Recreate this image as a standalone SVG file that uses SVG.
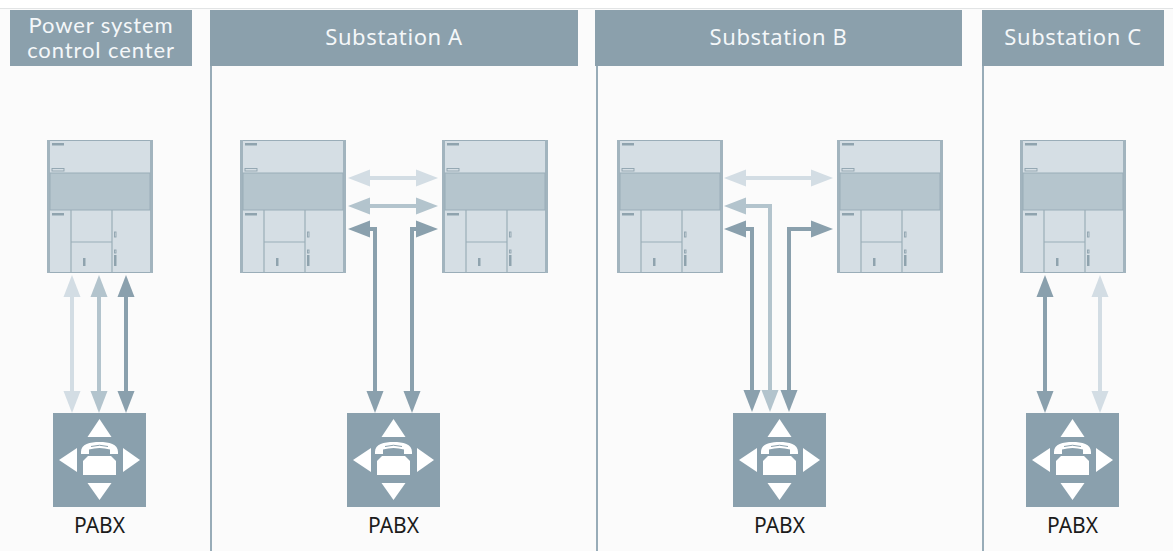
<svg xmlns="http://www.w3.org/2000/svg" xmlns:xlink="http://www.w3.org/1999/xlink" width="1173" height="551" viewBox="0 0 1173 551">
  <style>
    .hdr { fill: #8ba0ac; }
    .hdr-text { font-family: "Noto Sans", "Open Sans", sans-serif; font-size: 22px; letter-spacing: 0.6px; fill: #f4f7f9; text-anchor: middle; }
    .hdr-text.two-line { font-family: Lato, "Noto Sans", sans-serif; font-size: 22px; letter-spacing: 0.9px; }
    .label { font-family: "Noto Sans", "Open Sans", sans-serif; font-size: 21px; fill: #1c1c1c; text-anchor: middle; }
    .divider { stroke: #98acb8; stroke-width: 2; }
    .cab-body { fill: #d5dee4; stroke: #9aadb8; stroke-width: 1; }
    .cab-strip { fill: #a2b4be; }
    .cab-band { fill: #b5c5cd; stroke: #9aadb8; stroke-width: 1; }
    .cab-line { stroke: #9aadb8; stroke-width: 1.2; fill: none; }
    .cab-mark { fill: #8fa3ae; }
    .cab-mark-o { fill: none; stroke: #8fa3ae; stroke-width: 0.9; }
    .link { fill: none; stroke-width: 4; stroke-linejoin: miter; }
    .light { stroke: #d3dde4; marker-start: url(#head-light); marker-end: url(#head-light); }
    .mid { stroke: #b3c4cd; marker-start: url(#head-mid); marker-end: url(#head-mid); }
    .dark { stroke: #8aa0ad; marker-start: url(#head-dark); marker-end: url(#head-dark); }
  </style>
  <defs>
    <marker id="head-light" markerUnits="userSpaceOnUse" viewBox="0 -9 22 18" refX="0" refY="0" markerWidth="22" markerHeight="18" orient="auto-start-reverse">
      <path d="M0,-8.5 L22,0 L0,8.5 Z" fill="#d3dde4"/>
    </marker>
    <marker id="head-mid" markerUnits="userSpaceOnUse" viewBox="0 -9 22 18" refX="0" refY="0" markerWidth="22" markerHeight="18" orient="auto-start-reverse">
      <path d="M0,-8.5 L22,0 L0,8.5 Z" fill="#b3c4cd"/>
    </marker>
    <marker id="head-dark" markerUnits="userSpaceOnUse" viewBox="0 -9 22 18" refX="0" refY="0" markerWidth="22" markerHeight="18" orient="auto-start-reverse">
      <path d="M0,-8.5 L22,0 L0,8.5 Z" fill="#8aa0ad"/>
    </marker>

    <!-- control cabinet, 106 x 133 -->
    <g id="cabinet">
      <rect class="cab-body" x="0.5" y="0.5" width="105" height="132"/>
      <rect class="cab-strip" x="0" y="0" width="3" height="133"/>
      <rect class="cab-strip" x="103" y="0" width="3" height="133"/>
      <rect class="cab-band" x="3" y="33" width="100" height="37"/>
      <line class="cab-line" x1="24" y1="70" x2="24" y2="133"/>
      <line class="cab-line" x1="65" y1="70" x2="65" y2="133"/>
      <line class="cab-line" x1="24" y1="102" x2="65" y2="102"/>
      <rect class="cab-mark" x="5" y="3" width="12" height="2.5"/>
      <rect class="cab-mark-o" x="5" y="28.5" width="12" height="2.5"/>
      <rect class="cab-mark" x="5" y="73" width="12" height="2.5"/>
      <rect class="cab-mark" x="36" y="118" width="2.5" height="8"/>
      <rect class="cab-mark-o" x="67.5" y="92" width="1.5" height="5"/>
      <rect class="cab-mark-o" x="67.5" y="110" width="1.5" height="3"/>
      <rect class="cab-mark" x="67" y="115" width="2.5" height="11"/>
    </g>

    <!-- private branch exchange icon, 93 x 94 -->
    <g id="pabx-icon">
      <rect x="0" y="0" width="93" height="94" fill="#8aa0ad"/>
      <g fill="#ffffff">
        <polygon points="46.5,6 34.5,24 58.5,24"/>
        <polygon points="34.5,70 58.5,70 46.5,87"/>
        <polygon points="6,47 24,35 24,59"/>
        <polygon points="70,35 70,59 87,47"/>
        <path d="M28,39 C28,31 37,29 46.5,29 C56,29 65,31 65,39 L65,41 L57,41 L57,36.5 Q46.5,33.5 36,36.5 L36,41 L28,41 Z"/>
        <path d="M35,43 L58,43 L63,48 L63,62 L30,62 L30,48 Z"/>
      </g>
      <path d="M38,33.5 Q46.5,31 55,33.5" fill="none" stroke="#8aa0ad" stroke-width="1"/>
    </g>
  </defs>

  <!-- background -->
  <rect x="0" y="0" width="1173" height="551" fill="#ffffff"/>
  <rect x="0" y="9" width="1173" height="542" fill="#fbfbfb"/>
  <line x1="0" y1="8.5" x2="1173" y2="8.5" stroke="#e2e4e5" stroke-width="1"/>

  <!-- column headers -->
  <g id="header-control-center">
    <rect class="hdr" x="10" y="10" width="182" height="56"/>
    <text class="hdr-text two-line" x="101" y="32.5">Power system<tspan x="101" y="58">control center</tspan></text>
  </g>
  <g id="header-substation-a">
    <rect class="hdr" x="210" y="10" width="368" height="56"/>
    <text class="hdr-text" x="394" y="45">Substation A</text>
  </g>
  <g id="header-substation-b">
    <rect class="hdr" x="595" y="10" width="367" height="56"/>
    <text class="hdr-text" x="778.5" y="45">Substation B</text>
  </g>
  <g id="header-substation-c">
    <rect class="hdr" x="982" y="10" width="182" height="56"/>
    <text class="hdr-text" x="1073" y="45">Substation C</text>
  </g>

  <!-- column dividers -->
  <g id="dividers">
    <line class="divider" x1="211" y1="66" x2="211" y2="551"/>
    <line class="divider" x1="597" y1="66" x2="597" y2="551"/>
    <line class="divider" x1="983" y1="66" x2="983" y2="551"/>
  </g>

  <!-- cabinets -->
  <g id="cabinet-control-center"><use href="#cabinet" x="47" y="140"/></g>
  <g id="cabinet-a1"><use href="#cabinet" x="240" y="140"/></g>
  <g id="cabinet-a2"><use href="#cabinet" x="442" y="140"/></g>
  <g id="cabinet-b1"><use href="#cabinet" x="617" y="140"/></g>
  <g id="cabinet-b2"><use href="#cabinet" x="837" y="140"/></g>
  <g id="cabinet-c"><use href="#cabinet" x="1020" y="140"/></g>

  <!-- PABX units -->
  <g id="pabx-control-center">
    <use href="#pabx-icon" x="53" y="413"/>
    <text class="label" x="99.5" y="533">PABX</text>
  </g>
  <g id="pabx-a">
    <use href="#pabx-icon" x="347" y="413"/>
    <text class="label" x="393.5" y="533">PABX</text>
  </g>
  <g id="pabx-b">
    <use href="#pabx-icon" x="733" y="413"/>
    <text class="label" x="779.5" y="533">PABX</text>
  </g>
  <g id="pabx-c">
    <use href="#pabx-icon" x="1026" y="413"/>
    <text class="label" x="1072.5" y="533">PABX</text>
  </g>

  <!-- connections -->
  <g id="connectors">
    <!-- control center -->
    <path class="link light" d="M72,297 L72,391"/>
    <path class="link mid" d="M99,297 L99,391"/>
    <path class="link dark" d="M126,297 L126,391"/>
    <!-- substation A -->
    <path class="link light" d="M370,178 L416,178"/>
    <path class="link mid" d="M370,206 L416,206"/>
    <path class="link dark" d="M375,391 L375,229 L370,229"/>
    <path class="link dark" d="M412,391 L412,229 L416,229"/>
    <!-- substation B -->
    <path class="link light" d="M746,178 L811,178"/>
    <path class="link mid" d="M770,390 L770,206 L746,206"/>
    <path class="link dark" d="M752,390 L752,229 L746,229"/>
    <path class="link dark" d="M789,390 L789,229 L811,229"/>
    <!-- substation C -->
    <path class="link dark" d="M1045,297 L1045,391"/>
    <path class="link light" d="M1100,297 L1100,391"/>
  </g>
</svg>
